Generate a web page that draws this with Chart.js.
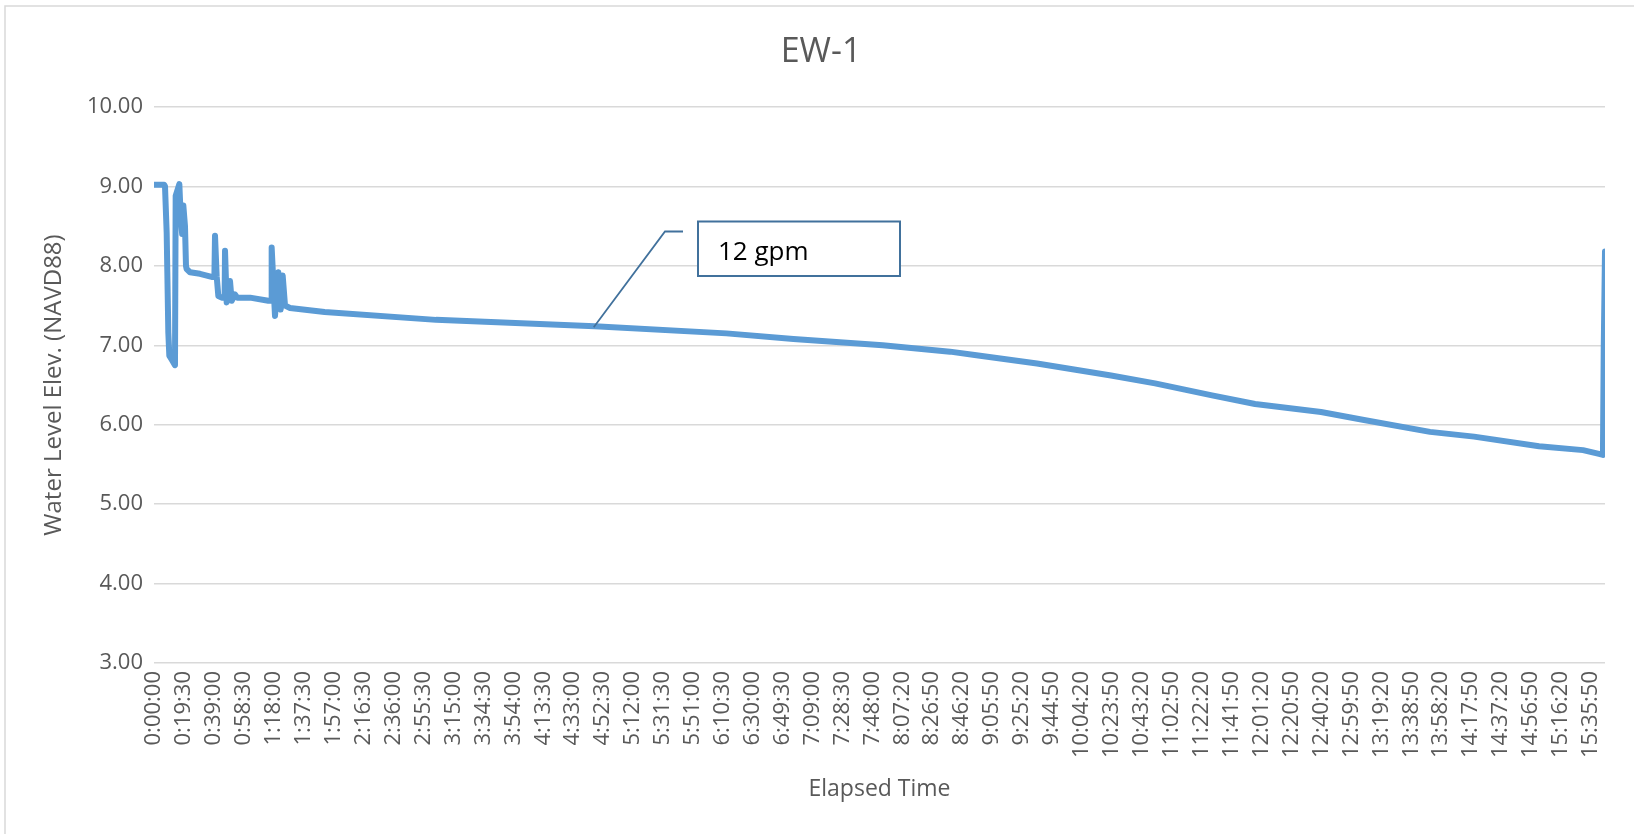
<!DOCTYPE html>
<html><head><meta charset="utf-8">
<script src="https://cdn.jsdelivr.net/npm/chart.js@4"></script>
<style>html,body{margin:0;padding:0;background:#fff;overflow:hidden} #wrap{width:1634px;height:834px;position:relative}</style>
</head><body><div id="wrap"><canvas id="c" width="1634" height="834"></canvas></div>
<script>
const chartTitle = 'EW-1';
const xAxisTitle = 'Elapsed Time';
const yAxisTitle = 'Water Level Elev. (NAVD88)';
const annotationText = '12 gpm';
const annotationSeconds = 17222;
const annotationLevel = 7.24;

const tickLabels = ['0:00:00','0:19:30','0:39:00','0:58:30','1:18:00','1:37:30','1:57:00','2:16:30','2:36:00','2:55:30','3:15:00','3:34:30','3:54:00','4:13:30','4:33:00','4:52:30','5:12:00','5:31:30','5:51:00','6:10:30','6:30:00','6:49:30','7:09:00','7:28:30','7:48:00','8:07:20','8:26:50','8:46:20','9:05:50','9:25:20','9:44:50','10:04:20','10:23:50','10:43:20','11:02:50','11:22:20','11:41:50','12:01:20','12:20:50','12:40:20','12:59:50','13:19:20','13:38:50','13:58:20','14:17:50','14:37:20','14:56:50','15:16:20','15:35:50'];
const yTickValues = [3,4,5,6,7,8,9,10];

const elapsedSeconds = [0,400,430,495,521,560,599,690,820,847,990,1042,1100,1146,1211,1250,1276,1407,1798,2253,2360,2384,2449,2514,2645,2760,2775,2840,2970,3035,3165,3250,3752,4468,4580,4598,4728,4859,4950,5028,5119,5315,6667,11020,17222,22368,24987,28476,31106,32138,34506,37398,39117,41344,43025,45604,47284,49863,51583,54123,55842,56506,56620,56650,56700];
const waterLevel =     [9.02,9.02,9.00,8.42,7.92,7.16,6.87,6.82,6.75,8.88,9.03,8.63,8.40,8.76,8.50,8.00,7.96,7.92,7.90,7.86,7.86,8.38,7.87,7.62,7.60,7.60,8.19,7.54,7.81,7.56,7.64,7.60,7.60,7.56,7.56,8.23,7.37,7.92,7.45,7.88,7.50,7.47,7.42,7.32,7.24,7.15,7.08,7.00,6.92,6.875,6.77,6.62,6.52,6.37,6.26,6.16,6.06,5.91,5.85,5.73,5.68,5.63,5.62,6.95,8.18];

function toSeconds(s){const p=s.split(':').map(Number);return p[0]*3600+p[1]*60+p[2];}
const tickSeconds = tickLabels.map(toSeconds);

const FONT = "'Open Sans', 'Noto Sans', sans-serif";
const TXT = '#595959';

const bgPlugin = {
  id:'bg',
  beforeDraw(chart){
    const ctx=chart.ctx;
    ctx.save();
    ctx.fillStyle='#ffffff';
    ctx.fillRect(0,0,chart.width,chart.height);
    ctx.strokeStyle='#D9D9D9';
    ctx.lineWidth=1.5;
    ctx.beginPath();
    ctx.moveTo(5,840); ctx.lineTo(5,6); ctx.lineTo(1640,6);
    ctx.stroke();
    ctx.restore();
  }
};

const annotationPlugin = {
  id:'calloutBox',
  afterDatasetsDraw(chart){
    const ctx=chart.ctx, xs=chart.scales.x, ys=chart.scales.y;
    const ax=xs.getPixelForValue(annotationSeconds), ay=ys.getPixelForValue(annotationLevel);
    ctx.save();
    ctx.strokeStyle='#41719C';
    ctx.lineWidth=1.8;
    ctx.beginPath();
    ctx.moveTo(ax-1, ay+1);
    ctx.lineTo(665, 231.5);
    ctx.lineTo(683, 231.5);
    ctx.stroke();
    ctx.fillStyle='#ffffff';
    ctx.fillRect(698,221,202,55);
    ctx.lineWidth=2;
    ctx.strokeRect(698,221.5,202,54.5);
    ctx.fillStyle='#000000';
    ctx.font="26px "+FONT;
    ctx.textBaseline='alphabetic';
    ctx.textAlign='left';
    ctx.fillText(annotationText, 718, 260);
    ctx.restore();
  }
};

new Chart(document.getElementById('c'), {
  type:'line',
  data:{
    datasets:[{
      label:'EW-1',
      data: elapsedSeconds.map((t,i)=>({x:t,y:waterLevel[i]})),
      borderColor:'#5B9BD5',
      backgroundColor:'#5B9BD5',
      borderWidth:6,
      pointRadius:0,
      tension:0,
      fill:false,
      borderJoinStyle:'round',
      borderCapStyle:'round'
    }]
  },
  options:{
    responsive:false,
    animation:false,
    devicePixelRatio:1,
    layout:{padding:{left:37,right:29,top:0,bottom:0}},
    plugins:{
      legend:{display:false},
      tooltip:{enabled:false},
      title:{display:true,text:chartTitle,color:TXT,font:{family:FONT,size:34,weight:'normal'},padding:{top:31.6,bottom:34.6}}
    },
    scales:{
      x:{
        type:'linear',
        min:0,max:56700,
        afterBuildTicks(scale){scale.ticks=tickSeconds.map(v=>({value:v}));},
        afterFit(scale){scale.height=171;},
        grid:{display:false,drawTicks:false},
        border:{display:false},
        ticks:{
          autoSkip:false,maxRotation:90,minRotation:90,padding:8,
          color:TXT,font:{family:FONT,size:22},
          callback:(v,i)=>tickLabels[i]
        },
        title:{display:true,text:xAxisTitle,color:TXT,font:{family:FONT,size:23},padding:{top:0,bottom:31}}
      },
      y:{
        min:3,max:10,
        afterBuildTicks(scale){scale.ticks=yTickValues.map(v=>({value:v}));},
        afterFit(scale){scale.width=117;},
        grid:{color:'#D9D9D9',lineWidth:1.5,drawTicks:false},
        border:{display:false},
        ticks:{padding:11,color:TXT,font:{family:FONT,size:22},callback:v=>Number(v).toFixed(2)},
        title:{display:true,text:yAxisTitle,color:TXT,font:{family:FONT,size:24},padding:{top:3,bottom:3}}
      }
    }
  },
  plugins:[bgPlugin, annotationPlugin]
});
</script>
</body></html>
